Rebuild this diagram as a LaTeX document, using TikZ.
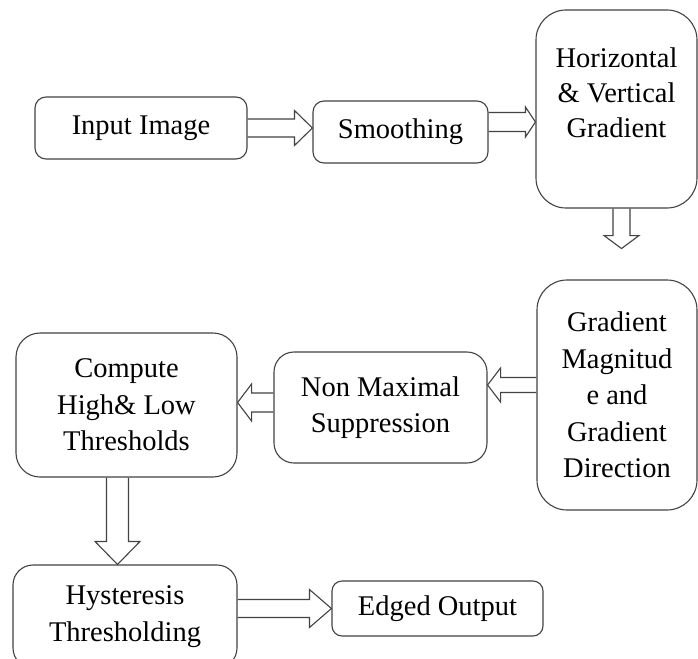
\documentclass[tikz,border=0pt]{standalone}
\usepackage{fontspec}
\setmainfont{Liberation Serif}
\usetikzlibrary{calc}
\definecolor{boxline}{HTML}{434343}
\tikzset{
  stage/.style={draw=boxline,line width=1.1pt,rounded corners=#1,align=center,inner sep=0pt},
  stage/.default=11pt,
  flow/.style={draw=boxline,line width=1.1pt,line join=miter}
}
% hollow block arrow: from, to, shaft half width, head half width, head length
\newcommand{\hollowarrow}[5]{%
  \coordinate (ha-s) at #1;
  \coordinate (ha-e) at #2;
  \coordinate (ha-h) at ($(ha-e)!#5pt!(ha-s)$);
  \draw[flow] ($(ha-s)!#3pt!90:(ha-e)$) -- ($(ha-h)!#3pt!90:(ha-e)$)
    -- ($(ha-h)!#4pt!90:(ha-e)$) -- (ha-e)
    -- ($(ha-h)!#4pt!-90:(ha-e)$) -- ($(ha-h)!#3pt!-90:(ha-e)$)
    -- ($(ha-s)!#3pt!-90:(ha-e)$);
}

\begin{document}
\begin{tikzpicture}[x=1pt,y=-1pt,font=\fontsize{28.5}{36.5}\selectfont]
    \useasboundingbox[fill=white] (0,0) rectangle (698,658);

    % Define the processing stages
    \node [stage, minimum width=212pt, minimum height=62pt] (inp) at (141,128) {Input Image};
    \node [stage, minimum width=175pt, minimum height=62pt] (smooth) at (400.5,132) {Smoothing};
    \node [stage=30pt, minimum width=161pt, minimum height=198pt] (hvg) at (616.5,109)
      {Horizontal\\[-1.5pt] \& Vertical\\[-1.5pt] Gradient\\[-4pt] \mbox{}};
    \node [stage=30pt, minimum width=160pt, minimum height=230pt] (gmag) at (617,395)
      {Gradient\\ Magnitud\\ e and\\ Gradient\\ Direction};
    \node [stage=20pt, minimum width=213pt, minimum height=111pt] (nms) at (380.5,407.5)
      {Non Maximal\\ Suppression};
    \node [stage=24pt, minimum width=221pt, minimum height=144pt] (comp) at (126.5,405)
      {Compute\\ High\& Low\\ Thresholds};
    \node [stage=20pt, minimum width=224pt, minimum height=103pt] (hyst) at (125,616.5)
      {Hysteresis\\ Thresholding};
    \node [stage=10pt, minimum width=211pt, minimum height=55pt] (edge) at (437.5,608.5) {Edged Output};

    % Arrow end points that sit off the node centres
    \coordinate (s2) at ($(smooth.east)+(0,-10)$);
    \coordinate (s3) at ($(hvg.south)+(5,0)$);
    \coordinate (t3) at ($(s3)+(0,40)$);
    \coordinate (s4) at ($(gmag.west)+(0,-10)$);
    \coordinate (s5) at ($(nms.west)+(0,-5)$);
    \coordinate (s6) at ($(comp.south)+(-9,0)$);

    % Draw the flow
    \hollowarrow{(inp.east)}{(inp.east -| smooth.west)}{9}{17.5}{18}
    \hollowarrow{(s2)}{(s2 -| hvg.west)}{9.5}{15}{10}
    \hollowarrow{(s3)}{(t3)}{8.5}{17.5}{13}
    \hollowarrow{(s4)}{(s4 -| nms.east)}{7.5}{17}{13}
    \hollowarrow{(s5)}{(s5 -| comp.east)}{9.5}{18.5}{14}
    \hollowarrow{(s6)}{(s6 |- hyst.north)}{11}{22.5}{23}
    \hollowarrow{(edge.west -| hyst.east)}{(edge.west)}{9}{19}{22}
\end{tikzpicture}
\end{document}
